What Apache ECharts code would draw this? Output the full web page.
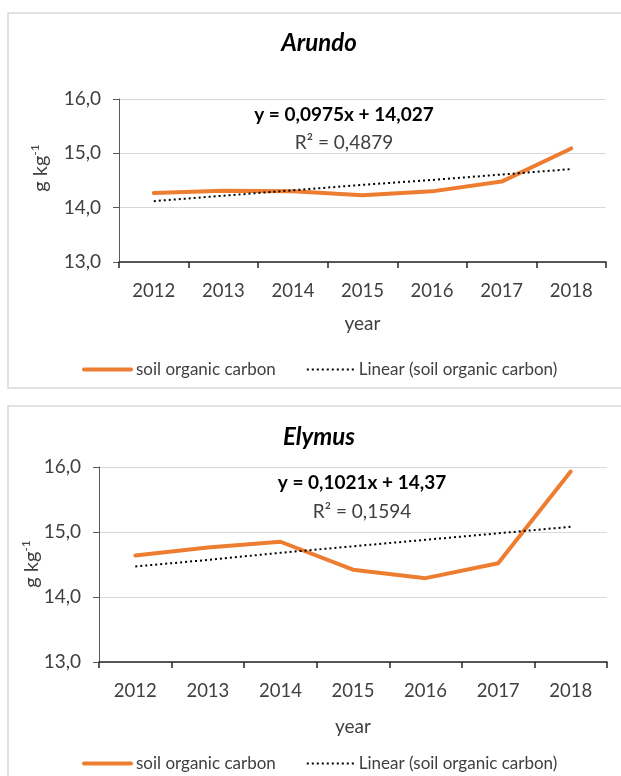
<!DOCTYPE html>
<html lang="en">
<head>
    <meta charset="UTF-8">
    <title>soil organic carbon</title>
    <script src="https://cdn.jsdelivr.net/npm/echarts@6/dist/echarts.min.js"></script>
    <style>
        *{
            margin: 0;
            padding: 0;
        }
        #main{
            width: 621px;
            height: 776px;
            background: #FFFFFF;
        }
    </style>
</head>
<body>
<div id="main"></div>
<script>
    // values
    let years = ['2012', '2013', '2014', '2015', '2016', '2017', '2018'];
    let arundoSoc = [14.27, 14.31, 14.30, 14.23, 14.30, 14.48, 15.09];
    let arundoTrend = [14.12, 14.22, 14.32, 14.42, 14.51, 14.61, 14.71];
    let elymusSoc = [14.64, 14.76, 14.85, 14.42, 14.29, 14.52, 15.93];
    let elymusTrend = [14.47, 14.57, 14.68, 14.78, 14.88, 14.98, 15.08];
    let yMin = 13, yMax = 16, yStep = 1;

    let fontName = 'Lato';
    let orange = '#ED7D31';
    let grey = '#404040';

    function xAxisOpt(idx){
        return {
            type: 'category',
            gridIndex: idx,
            data: years,
            boundaryGap: true,
            name: 'year',
            nameLocation: 'middle',
            nameGap: idx === 0 ? 52 : 55,
            nameTextStyle: {fontFamily: fontName, fontSize: 19, color: grey},
            axisLine: {lineStyle: {color: '#262626', width: 1.5}},
            axisTick: {show: true, interval: 0, length: 6, lineStyle: {color: '#262626', width: 1.5}},
            axisLabel: {interval: 0, margin: 20, fontFamily: fontName, fontSize: 18.5, color: grey},
            splitLine: {show: false}
        };
    }
    function yAxisOpt(idx){
        return {
            type: 'value',
            gridIndex: idx,
            min: yMin,
            max: yMax,
            interval: yStep,
            axisLine: {show: true, lineStyle: {color: '#595959', width: 1}},
            axisTick: {show: true, length: 6, lineStyle: {color: '#595959'}},
            axisLabel: {
                margin: 18, fontFamily: fontName, fontSize: 19, color: grey,
                formatter: function(v){ return v.toFixed(1).replace('.', ','); }
            },
            splitLine: {lineStyle: {color: '#D9D9D9', width: 1}}
        };
    }
    function socSeries(idx, data){
        return {
            name: 'soil organic carbon', type: 'line',
            xAxisIndex: idx, yAxisIndex: idx,
            data: data, symbol: 'none', smooth: false,
            lineStyle: {color: orange, width: 4, cap: 'round', join: 'round'},
            itemStyle: {color: orange}
        };
    }
    function trendSeries(idx, data){
        return {
            name: 'Linear (soil organic carbon)', type: 'line',
            xAxisIndex: idx, yAxisIndex: idx,
            data: data, symbol: 'none',
            lineStyle: {color: '#000000', width: 2, type: [2, 3]},
            itemStyle: {color: '#000000'}
        };
    }
    function legendOpt(top){
        return {
            left: 77, top: top,
            itemWidth: 47, itemHeight: 14, itemGap: 30,
            data: [
                {name: 'soil organic carbon', lineStyle: {width: 4, cap: 'round'}},
                {name: 'Linear (soil organic carbon)', lineStyle: {width: 2}}
            ],
            itemStyle: {opacity: 0},
            textStyle: {fontFamily: fontName, fontSize: 17, color: grey}
        };
    }
    function txt(x, y, text, size, weight, style, color){
        return {
            type: 'text', x: x, y: y,
            style: {
                text: text, align: 'center', verticalAlign: 'middle',
                fontFamily: fontName, fontSize: size, fontWeight: weight,
                fontStyle: style, fill: color
            }
        };
    }
    function yName(x, y){
        return {
            type: 'text', x: x, y: y, rotation: Math.PI / 2,
            style: {
                text: '{a|g kg}{b|-1}', align: 'center', verticalAlign: 'middle',
                rich: {
                    a: {fontFamily: fontName, fontSize: 20, fill: grey, lineHeight: 22, verticalAlign: 'bottom'},
                    b: {fontFamily: fontName, fontSize: 12, fill: grey, lineHeight: 22, verticalAlign: 'top'}
                }
            }
        };
    }

    let myChart = echarts.init(document.getElementById('main'));
    myChart.setOption({
        animation: false,
        grid: [
            {left: 119, top: 99, right: 15, height: 163},
            {left: 99, top: 467, right: 14, height: 195}
        ],
        xAxis: [xAxisOpt(0), xAxisOpt(1)],
        yAxis: [yAxisOpt(0), yAxisOpt(1)],
        legend: [legendOpt(356), legendOpt(750)],
        series: [
            socSeries(0, arundoSoc), trendSeries(0, arundoTrend),
            socSeries(1, elymusSoc), trendSeries(1, elymusTrend)
        ],
        graphic: [
            {type: 'rect', shape: {x: 8, y: 13, width: 640, height: 375}, style: {fill: 'none', stroke: '#D9D9D9', lineWidth: 1.5}, z: -1},
            {type: 'rect', shape: {x: 8, y: 406, width: 640, height: 400}, style: {fill: 'none', stroke: '#D9D9D9', lineWidth: 1.5}, z: -1},
            txt(319, 43, 'Arundo', 24, 'bold', 'italic', '#000000'),
            txt(344, 115, 'y = 0,0975x + 14,027', 19, 'bold', 'normal', '#000000'),
            txt(344, 143, 'R² = 0,4879', 19, 'normal', 'normal', grey),
            txt(319, 437, 'Elymus', 24, 'bold', 'italic', '#000000'),
            txt(362, 483, 'y = 0,1021x + 14,37', 19, 'bold', 'normal', '#000000'),
            txt(362, 512, 'R² = 0,1594', 19, 'normal', 'normal', grey),
            yName(40, 168),
            yName(31, 564)
        ]
    });
</script>
</body>
</html>
